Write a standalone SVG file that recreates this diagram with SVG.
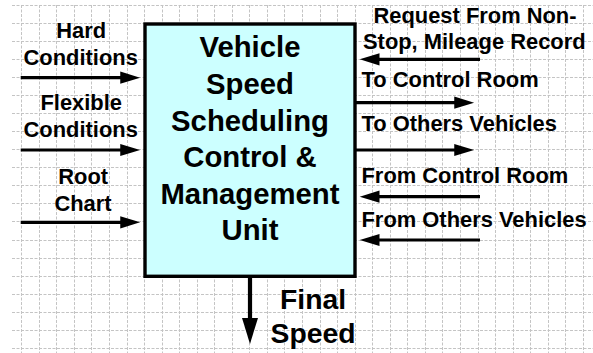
<svg xmlns="http://www.w3.org/2000/svg" width="593" height="353" viewBox="0 0 593 353">
<style>
.grid{stroke:#c4c4c4;stroke-width:1;stroke-dasharray:3 1.5;fill:none}
.lbl{font-family:"Liberation Sans",Arial,sans-serif;font-weight:bold;font-size:21.9px;fill:#000}
.big{font-family:"Liberation Sans",Arial,sans-serif;font-weight:bold;font-size:29.3px;fill:#000;text-anchor:middle}
.fin{font-family:"Liberation Sans",Arial,sans-serif;font-weight:bold;font-size:28.3px;fill:#000;text-anchor:middle}
.mid{text-anchor:middle}
.con{stroke:#000;stroke-width:3.2;fill:none;marker-end:url(#ah)}
</style>
<defs>
<marker id="ah" markerUnits="strokeWidth" markerWidth="7" markerHeight="4" refX="3.6" refY="1.9" orient="auto" overflow="visible">
<path d="M0,0 L6.2,1.9 L0,3.8 z" fill="#000"/>
</marker>
</defs>
<rect width="593" height="353" fill="#fff"/>
<g id="grid">
<path class="grid" d="M21.5,5V353M39.5,5V353M56.5,5V353M74.5,5V353M91.5,5V353M109.5,5V353M127.5,5V353M144.5,5V353M162.5,5V353M179.5,5V353M197.5,5V353M214.5,5V353M232.5,5V353M249.5,5V353M267.5,5V353M284.5,5V353M302.5,5V353M320.5,5V353M337.5,5V353M355.5,5V353M372.5,5V353M390.5,5V353M407.5,5V353M425.5,5V353M442.5,5V353M460.5,5V353M478.5,5V353M495.5,5V353M513.5,5V353M530.5,5V353M548.5,5V353M565.5,5V353M583.5,5V353"/>
<path class="grid" d="M12,5.5H593M12,23.5H593M12,41.5H593M12,59.5H593M12,77.5H593M12,95.5H593M12,113.5H593M12,131.5H593M12,149.5H593M12,167.5H593M12,185.5H593M12,203.5H593M12,221.5H593M12,240.5H593M12,258.5H593M12,276.5H593M12,294.5H593M12,312.5H593M12,330.5H593M12,348.5H593"/>
</g>
<g id="unit">
<rect x="145" y="24" width="210" height="252.3" fill="#ccffff" stroke="#000" stroke-width="3.4"/>
<text class="big" x="250" y="57.3">Vehicle</text>
<text class="big" x="250" y="94">Speed</text>
<text class="big" x="250" y="130.6">Scheduling</text>
<text class="big" x="250" y="167.2">Control &amp;</text>
<text class="big" x="250" y="203.8">Management</text>
<text class="big" x="250" y="240.4">Unit</text>
</g>
<g id="connectors">
<line class="con" x1="20.7" y1="77.7" x2="131.8" y2="77.7"/>
<line class="con" x1="20.7" y1="150" x2="131.8" y2="150"/>
<line class="con" x1="20.7" y1="222.3" x2="131.8" y2="222.3"/>
<line class="con" x1="480" y1="59.3" x2="368" y2="59.3"/>
<line class="con" x1="356" y1="102.7" x2="465.8" y2="102.7"/>
<line class="con" x1="356" y1="150" x2="465.8" y2="150"/>
<line class="con" x1="480" y1="196.7" x2="368" y2="196.7"/>
<line class="con" x1="480" y1="240" x2="368" y2="240"/>
<line class="con" x1="250" y1="277" x2="250" y2="333" style="stroke-width:4.2"/>
</g>
<g id="in-hard">
<text class="lbl mid" x="81.2" y="38.3">Hard</text>
<text class="lbl mid" x="80.7" y="65">Conditions</text>
</g>
<g id="in-flexible">
<text class="lbl mid" x="81.2" y="110">Flexible</text>
<text class="lbl mid" x="80.7" y="136.7">Conditions</text>
</g>
<g id="in-root">
<text class="lbl mid" x="83.2" y="184">Root</text>
<text class="lbl mid" x="83" y="210.7">Chart</text>
</g>
<g id="in-request">
<text class="lbl mid" x="475" y="22.7">Request From Non-</text>
<text class="lbl mid" x="474.3" y="49.3">Stop, Mileage Record</text>
</g>
<g id="out-control">
<text class="lbl" x="361.5" y="87.3">To Control Room</text>
</g>
<g id="out-vehicles">
<text class="lbl" x="361.5" y="131">To Others Vehicles</text>
</g>
<g id="in-control">
<text class="lbl" x="361.5" y="182.7">From Control Room</text>
</g>
<g id="in-vehicles">
<text class="lbl" x="361.5" y="227.3">From Others Vehicles</text>
</g>
<g id="out-final">
<text class="fin" x="313" y="309.3">Final</text>
<text class="fin" x="313" y="342.5">Speed</text>
</g>
</svg>
